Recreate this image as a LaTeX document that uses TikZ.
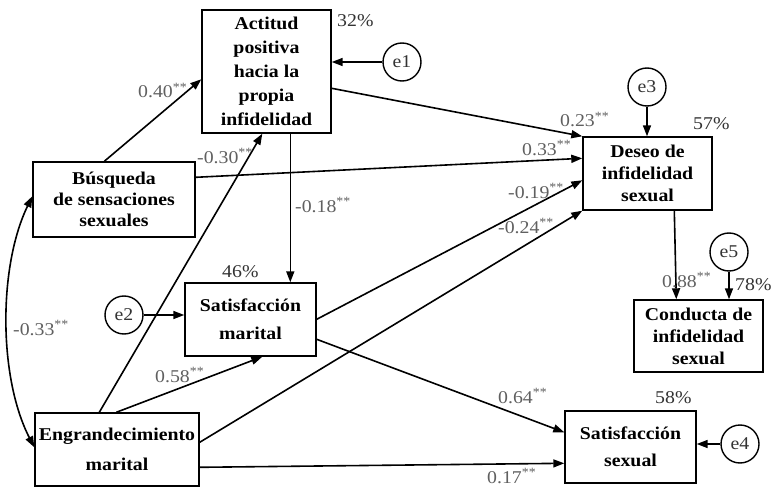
\documentclass[tikz,border=0pt]{standalone}
\usepackage{fontspec}
\setmainfont{Liberation Serif}[FakeStretch=1.1]
\usetikzlibrary{arrows.meta,calc}
\definecolor{coefgray}{HTML}{606060}
\definecolor{pctgray}{HTML}{333333}
\begin{document}
\begin{tikzpicture}[x=1pt,y=-1pt,
  varbox/.style={draw, line width=1.4pt, inner sep=0pt, align=center,
    font=\bfseries\fontsize{18}{#1}\selectfont},
  errc/.style={draw, circle, line width=1.4pt, minimum size=38pt, inner sep=0pt,
    text=pctgray, font=\fontsize{18}{20}\selectfont},
  arr/.style={line width=1.6pt, -{Triangle[length=11pt,width=8pt]}},
  darr/.style={line width=1.6pt, {Triangle[length=11pt,width=8pt]}-{Triangle[length=11pt,width=8pt]}},
  coef/.style={anchor=base west, inner sep=0pt, text=coefgray, font=\fontsize{18}{20}\selectfont},
  pct/.style={anchor=base west, inner sep=0pt, text=pctgray, font=\fontsize{18}{20}\selectfont}]
\useasboundingbox[fill=white] (0,0) rectangle (780,503);

% boxes
\node[varbox=24, minimum width=129pt, minimum height=123pt] (act) at (266.5,71.5)
  {Actitud\\positiva\\hacia la\\propia\\infidelidad};
\node[varbox=21, minimum width=162pt, minimum height=75pt] (bus) at (114,199.5)
  {Búsqueda\\de sensaciones\\sexuales};
\node[varbox=22, minimum width=129pt, minimum height=73pt] (des) at (647.5,173.5)
  {Deseo de\\infidelidad\\sexual};
\node[varbox=22, minimum width=129pt, minimum height=72pt] (con) at (698.5,336)
  {Conducta de\\infidelidad\\sexual};
\node[varbox=28, minimum width=131pt, minimum height=73pt] (sm) at (250.5,319.5)
  {Satisfacción\\marital};
\node[varbox=30, minimum width=164pt, minimum height=73pt] (eng) at (117,449.5)
  {Engrandecimiento\\marital};
\node[varbox=27, minimum width=131pt, minimum height=72pt] (ss) at (630.5,447)
  {Satisfacción\\sexual};

% error terms
\node[errc] (e1) at (402,62) {e1};
\node[errc] (e2) at (124,315) {e2};
\node[errc] (e3) at (647,87) {e3};
\node[errc] (e4) at (740,444) {e4};
\node[errc] (e5) at (729,252) {e5};

% paths
\draw[arr] ([xshift=72pt]bus.north west) -- ([yshift=-70pt]act.north west);
\draw[arr] ([xshift=65pt]eng.north west) -- ([xshift=61pt]act.south west);
\draw[arr] ([xshift=89pt]act.south west) -- ([xshift=106pt]sm.north west);
\draw[arr] ([yshift=-79pt]act.north east) -- (des.north west);
\draw[arr] ([yshift=-16pt]bus.north east) -- ([yshift=-22pt]des.north west);
\draw[arr] ([yshift=-37pt]sm.north east) -- ([yshift=-44pt]des.north west);
\draw[arr] ([yshift=-30pt]eng.north east) -- (des.south west);
\draw[arr] ([yshift=-57pt]sm.north east) -- ([yshift=-22pt]ss.north west);
\draw[arr] ([yshift=-55pt]eng.north east) -- ([yshift=-53pt]ss.north west);
\draw[arr] ([xshift=82pt]eng.north west) -- ([xshift=78pt]sm.south west);
\draw[arr] ([xshift=92pt]des.south west) -- ([xshift=43pt]con.north west);

\draw[arr] (e1.west) -- (act.east |- e1.west);
\draw[arr] (e2.east) -- (sm.west |- e2.east);
\draw[arr] (e3.south) -- (e3.south |- des.north);
\draw[arr] (e4.west) -- (ss.east |- e4.west);
\draw[arr] (e5.south) -- (e5.south |- con.north);

\draw[darr] ([yshift=-35pt]bus.north west) .. controls +(-34,70) and +(-36,-70) .. ([yshift=-35pt]eng.north west);

% coefficients
\node[coef] (c1) at (138,98) {0.40\textsuperscript{**}};
\node[coef] (c2) at (197,163) {-0.30\textsuperscript{**}};
\node[coef] (c3) at (295,212) {-0.18\textsuperscript{**}};
\node[coef] (c4) at (560,127) {0.23\textsuperscript{**}};
\node[coef] (c5) at (522,155) {0.33\textsuperscript{**}};
\node[coef] (c6) at (508,198) {-0.19\textsuperscript{**}};
\node[coef] (c7) at (498,233) {-0.24\textsuperscript{**}};
\node[coef] (c8) at (13,335) {-0.33\textsuperscript{**}};
\node[coef] (c9) at (155,382) {0.58\textsuperscript{**}};
\node[coef] (c10) at (662,287) {0.88\textsuperscript{**}};
\node[coef] (c11) at (498,403) {0.64\textsuperscript{**}};
\node[coef] (c12) at (487,483) {0.17\textsuperscript{**}};

% percentages
\node[pct] (p1) at (337,27) {32\%};
\node[pct] (p2) at (693,129) {57\%};
\node[pct] (p3) at (222,277) {46\%};
\node[pct] (p4) at (735,290) {78\%};
\node[pct] (p5) at (655,403) {58\%};
\end{tikzpicture}
\end{document}
